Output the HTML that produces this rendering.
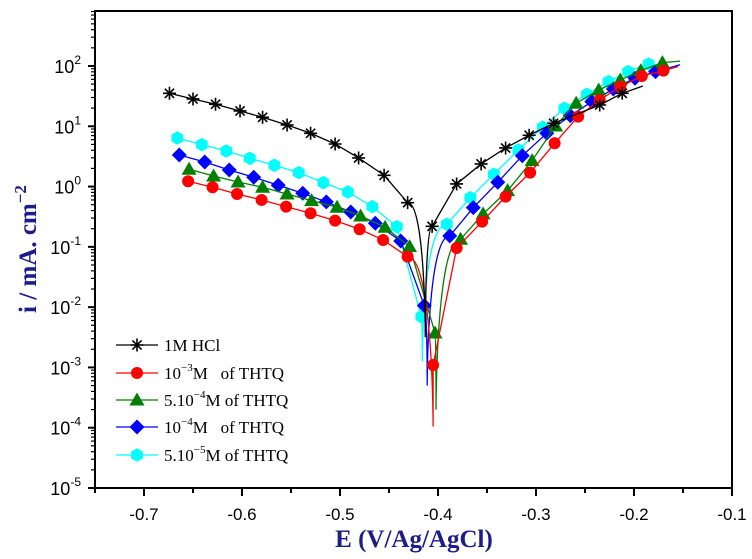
<!DOCTYPE html>
<html><head><meta charset="utf-8">
<style>
html,body{margin:0;padding:0;background:#fff;}
svg{display:block;}
</style></head>
<body>
<svg id="chart" width="752" height="559" viewBox="0 0 752 559" xmlns="http://www.w3.org/2000/svg">
<g id="plot"></g>
<g id="axes"></g>
<g id="legend"></g>
<text x="414" y="547" text-anchor="middle" font-family="Liberation Serif, serif" font-weight="bold" font-size="25" fill="#1c1c8a">E (V/Ag/AgCl)</text>
<text transform="translate(36,249) rotate(-90)" text-anchor="middle" font-family="Liberation Serif, serif" font-weight="bold" font-size="25" fill="#1c1c8a">i / mA. cm<tspan dy="-10" font-size="17">−2</tspan></text>
</svg>
<script>
// ---- data (E in V, current as log10(mA/cm2)) ----
const xTicks = [-0.7,-0.6,-0.5,-0.4,-0.3,-0.2,-0.1];
const xTickLabels = ["-0.7","-0.6","-0.5","-0.4","-0.3","-0.2","-0.1"];
const yDecades = [-5,-4,-3,-2,-1,0,1,2];
const seriesNames = ["1M HCl","10^-3M  of THTQ","5.10^-4M of THTQ","10^-4M  of THTQ","5.10^-5M of THTQ"];
const hclE   = [-0.674,-0.650,-0.627,-0.602,-0.579,-0.554,-0.530,-0.505,-0.481,-0.455,-0.431,-0.406,-0.381,-0.356,-0.331,-0.307,-0.282,-0.235,-0.212];
const hclLog = [1.547,1.453,1.365,1.254,1.149,1.022,0.884,0.706,0.474,0.187,-0.267,-0.660,0.043,0.375,0.640,0.851,1.050,1.353,1.547];
const hclCorr = [-0.413,-2.5,-0.191,1.668];
const redE   = [-0.655,-0.630,-0.605,-0.580,-0.555,-0.530,-0.505,-0.480,-0.456,-0.431,-0.405,-0.381,-0.355,-0.331,-0.306,-0.281,-0.257,-0.235,-0.214,-0.192,-0.170];
const redLog = [0.088,-0.012,-0.123,-0.222,-0.333,-0.443,-0.565,-0.708,-0.886,-1.162,-2.96,-1.02,-0.582,-0.167,0.231,0.718,1.160,1.436,1.657,1.834,1.923];
const redCorr = [-0.405,-3.98,-0.155,1.99];
const greenE   = [-0.654,-0.629,-0.604,-0.579,-0.554,-0.529,-0.503,-0.479,-0.454,-0.429,-0.403,-0.377,-0.354,-0.329,-0.304,-0.280,-0.259,-0.236,-0.214,-0.193,-0.171];
const greenLog = [0.287,0.176,0.076,-0.012,-0.123,-0.234,-0.343,-0.488,-0.675,-0.997,-2.43,-0.874,-0.454,-0.068,0.430,1.005,1.381,1.602,1.768,1.923,2.056];
const greenCorr = [-0.402,-3.7,-0.153,2.08];
const blueE   = [-0.664,-0.638,-0.613,-0.588,-0.563,-0.538,-0.514,-0.489,-0.464,-0.438,-0.414,-0.388,-0.364,-0.339,-0.314,-0.289,-0.265,-0.243,-0.221,-0.199,-0.178];
const blueLog = [0.524,0.408,0.275,0.154,0.022,-0.111,-0.255,-0.421,-0.609,-0.902,-1.975,-0.819,-0.350,0.071,0.512,0.884,1.176,1.408,1.619,1.796,1.906];
const blueCorr = [-0.411,-3.3,-0.153,2.02];
const cyanE   = [-0.666,-0.641,-0.616,-0.592,-0.567,-0.542,-0.517,-0.492,-0.467,-0.442,-0.417,-0.391,-0.367,-0.343,-0.318,-0.293,-0.271,-0.248,-0.226,-0.206,-0.185];
const cyanLog = [0.806,0.695,0.590,0.469,0.353,0.231,0.065,-0.090,-0.333,-0.665,-2.157,-0.625,-0.184,0.204,0.607,0.983,1.298,1.531,1.740,1.906,2.033];
const cyanCorr = [-0.416,-2.9,null,null];

// ---- scales ----
const X0=95, X1=732, Y0=11, Y1=488;
const xMin=-0.75, xMax=-0.1, yTop=2.912, yBot=-5;
function xs(v){return X0+(v-xMin)/(xMax-xMin)*(X1-X0);}
function ys(l){return Y1-(l-yBot)/(yTop-yBot)*(Y1-Y0);}
const NS="http://www.w3.org/2000/svg";
function mk(tag,attrs,parent){const e=document.createElementNS(NS,tag);for(const k in attrs)e.setAttribute(k,attrs[k]);parent.appendChild(e);return e;}

const plot=document.getElementById('plot'), axes=document.getElementById('axes'), legend=document.getElementById('legend');

function marker(type,cx,cy,color,parent,name){
  let e;
  if(type==='star'){
    const r=6.5;
    let d='';
    for(let i=0;i<4;i++){const a=i*Math.PI/4;d+=`M${cx-r*Math.cos(a)},${cy-r*Math.sin(a)}L${cx+r*Math.cos(a)},${cy+r*Math.sin(a)}`;}
    e=mk('path',{d:d,stroke:color,'stroke-width':1.6,fill:'none'},parent);
  } else if(type==='circle'){
    e=mk('circle',{cx:cx,cy:cy,r:6,fill:color},parent);
  } else if(type==='tri'){
    e=mk('polygon',{points:`${cx},${cy-7.5} ${cx+7.5},${cy+5.5} ${cx-7.5},${cy+5.5}`,fill:color},parent);
  } else if(type==='diamond'){
    e=mk('polygon',{points:`${cx},${cy-7.5} ${cx+7.5},${cy} ${cx},${cy+7.5} ${cx-7.5},${cy}`,fill:color},parent);
  } else {
    let p=[];for(let i=0;i<6;i++){const a=Math.PI/6+i*Math.PI/3;p.push(`${cx+6.8*Math.cos(a)},${cy+6.8*Math.sin(a)}`);}
    e=mk('polygon',{points:p.join(' '),fill:color},parent);
  }
  
  
  return e;
}

const series=[
 {E:hclE,L:hclLog,C:hclCorr,color:'#000000',m:'star',key:'hcl'},
 {E:redE,L:redLog,C:redCorr,color:'#ff0000',m:'circle',key:'1e-3'},
 {E:greenE,L:greenLog,C:greenCorr,color:'#008000',m:'tri',key:'5e-4'},
 {E:blueE,L:blueLog,C:blueCorr,color:'#0000ff',m:'diamond',key:'1e-4'},
 {E:cyanE,L:cyanLog,C:cyanCorr,color:'#00ffff',m:'hex',key:'5e-5'}
];
[4,3,2,1,0].forEach(si=>{
  const s=series[si];
  const ec=s.C[0], lm=s.C[1];
  const left=[],right=[];
  s.E.forEach((e,i)=>{ (e<ec?left:right).push([xs(e),ys(s.L[i])]); });
  right.sort((a,b)=>a[0]-b[0]);
  const cx=xs(ec), cy=ys(lm);
  let d='M'+left.map(p=>p[0]+','+p[1]).join('L');
  const lp=left[left.length-1];
  d+=`C${cx},${lp[1]} ${cx},${cy} ${cx},${cy}`;
  const rp=right[0];
  d+=`C${cx},${cy} ${cx},${rp[1]} ${rp[0]},${rp[1]}`;
  d+='L'+right.map(p=>p[0]+','+p[1]).join('L');
  if(s.C[2]!==null) d+=`L${xs(s.C[2])},${ys(s.C[3])}`;
  const path=mk('path',{d:d,stroke:s.color,'stroke-width':1.3,fill:'none'},plot);
  
  
  s.E.forEach((e,i)=>{ marker(s.m,xs(e),ys(s.L[i]),s.color,plot,'point-'+s.key); });
});

// ---- axes ----
const frame=mk('rect',{x:X0,y:Y0,width:X1-X0,height:Y1-Y0,fill:'none',stroke:'#000','stroke-width':2},axes);


xTicks.forEach((v,i)=>{
  const x=xs(v);
  const t=mk('line',{x1:x,y1:Y1,x2:x,y2:Y1+8,stroke:'#000','stroke-width':2},axes);
  
  
  const lb=mk('text',{x:x,y:Y1+32,'text-anchor':'middle','font-family':'Liberation Sans, sans-serif','font-size':17,fill:'#000'},axes);
  lb.textContent=xTickLabels[i];
  
  
  const mx=xs(v+0.05);
  if(v+0.05<xMax){
    const m=mk('line',{x1:mx,y1:Y1,x2:mx,y2:Y1+5,stroke:'#000','stroke-width':2},axes);
    
    
  }
});
const m0=mk('line',{x1:xs(-0.75),y1:Y1,x2:xs(-0.75),y2:Y1+5,stroke:'#000','stroke-width':2},axes);


yDecades.forEach(d=>{
  const y=ys(d);
  const t=mk('line',{x1:X0-7,y1:y,x2:X0,y2:y,stroke:'#000','stroke-width':2},axes);
  
  
  const lb=mk('text',{x:X0-14,y:y+7,'text-anchor':'end','font-family':'Liberation Sans, sans-serif','font-size':18,fill:'#000'},axes);
  lb.innerHTML='10<tspan dy="-9" font-size="12">'+d+'</tspan>';
  
  
});
for(let d=-5; d<3; d++){
  for(let k=2;k<10;k++){
    const l=d+Math.log10(k);
    if(l>yTop) continue;
    const y=ys(l);
    const m=mk('line',{x1:X0-4,y1:y,x2:X0,y2:y,stroke:'#000','stroke-width':1.2},axes);
    
    
  }
}

// ---- legend ----
const legRows=[345,373,400,427,455];
const legTexts=['1M HCl','10<tspan dy="-8" font-size="11">−3</tspan><tspan dy="8">M   of THTQ</tspan>','5.10<tspan dy="-8" font-size="11">−4</tspan><tspan dy="8">M of THTQ</tspan>','10<tspan dy="-8" font-size="11">−4</tspan><tspan dy="8">M   of THTQ</tspan>','5.10<tspan dy="-8" font-size="11">−5</tspan><tspan dy="8">M of THTQ</tspan>'];
const legOrder=[0,1,2,3,4];
legOrder.forEach((si,i)=>{
  const s=series[si], y=legRows[i];
  const g=mk('g',{},legend);
  
  
  mk('line',{x1:116,y1:y,x2:158,y2:y,stroke:s.color,'stroke-width':1.3},g);
  marker(s.m,137,y,s.color,g,'legend-marker');
  const t=mk('text',{x:164,y:y+6,'font-family':'Liberation Serif, serif','font-size':17,fill:'#000'},g);
  t.setAttribute('style','white-space:pre');
  t.innerHTML=legTexts[i];
});
</script>
</body></html>
